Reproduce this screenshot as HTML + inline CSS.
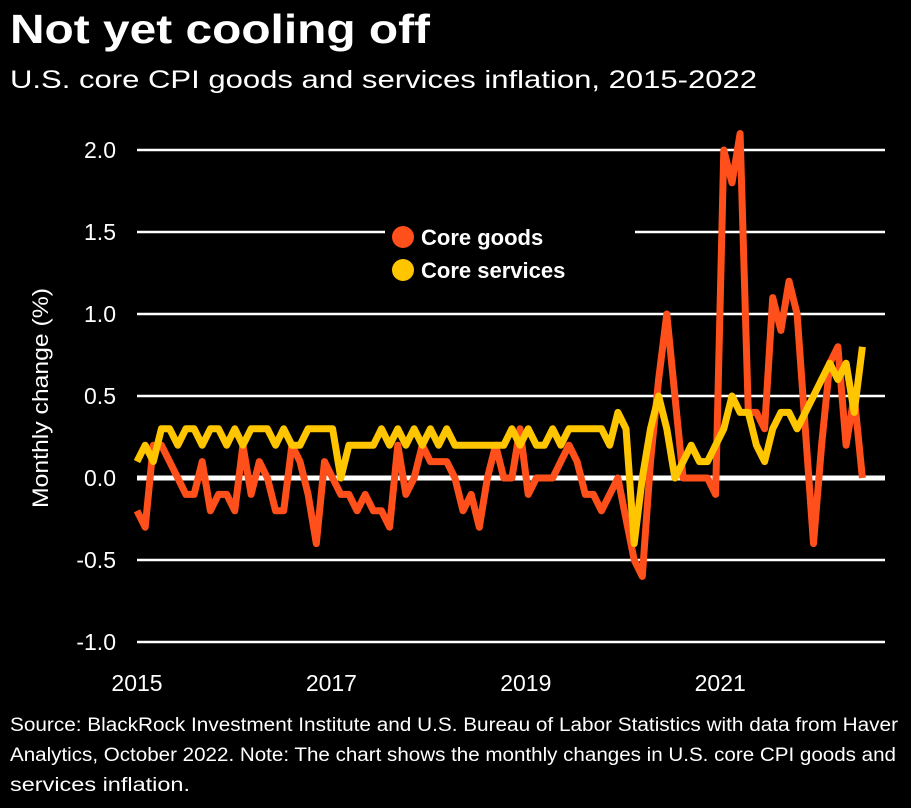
<!DOCTYPE html>
<html><head><meta charset="utf-8"><style>
html,body{margin:0;padding:0;background:#000;}
svg{display:block;}
text{font-family:"Liberation Sans",sans-serif;fill:#fff;}
</style></head><body>
<svg id="chart" width="911" height="808" viewBox="0 0 911 808" xmlns="http://www.w3.org/2000/svg">
<rect width="911" height="808" fill="#000"/>
<text x="10" y="43" font-size="41" font-weight="bold" textLength="420" lengthAdjust="spacingAndGlyphs">Not yet cooling off</text>
<text x="10" y="88" font-size="25" textLength="747" lengthAdjust="spacingAndGlyphs">U.S. core CPI goods and services inflation, 2015-2022</text>
<g id="grid"></g>
<g id="ylabels"></g>
<g id="xlabels"></g>
<text transform="translate(48,398) rotate(-90)" text-anchor="middle" font-size="22" textLength="220" lengthAdjust="spacingAndGlyphs">Monthly change (%)</text>
<g id="series"></g>
<g>
<rect x="385" y="220" width="250" height="68" fill="#000"/>
<g>
<circle cx="403" cy="237" r="11" fill="#ff4f1a"/>
<text x="421" y="245" font-size="22" font-weight="bold">Core goods</text></g>
<g>
<circle cx="403" cy="270" r="11" fill="#ffc600"/>
<text x="421" y="278" font-size="22" font-weight="bold">Core services</text></g>
</g>
<g font-size="19">
<text x="10" y="731" textLength="888" lengthAdjust="spacingAndGlyphs">Source: BlackRock Investment Institute and U.S. Bureau of Labor Statistics with data from Haver</text>
<text x="10" y="761" textLength="886" lengthAdjust="spacingAndGlyphs">Analytics, October 2022. Note: The chart shows the monthly changes in U.S. core CPI goods and</text>
<text x="10" y="791" textLength="180" lengthAdjust="spacingAndGlyphs">services inflation.</text>
</g>
</svg>
<script>
const yTicks = [2.0, 1.5, 1.0, 0.5, 0.0, -0.5, -1.0];
const yTickLabels = ["2.0", "1.5", "1.0", "0.5", "0.0", "-0.5", "-1.0"];
const xTickYears = [2015, 2017, 2019, 2021];
const coreGoods = [-0.2,-0.3,0.2,0.2,0.1,0.0,-0.1,-0.1,0.1,-0.2,-0.1,-0.1,-0.2,0.2,-0.1,0.1,0.0,-0.2,-0.2,0.2,0.1,-0.1,-0.4,0.1,0.0,-0.1,-0.1,-0.2,-0.1,-0.2,-0.2,-0.3,0.2,-0.1,0.0,0.2,0.1,0.1,0.1,0.0,-0.2,-0.1,-0.3,0.0,0.2,0.0,0.0,0.3,-0.1,0.0,0.0,0.0,0.1,0.2,0.1,-0.1,-0.1,-0.2,-0.1,0.0,-0.25,-0.5,-0.6,0.1,0.6,1.0,0.5,0.0,0.0,0.0,0.0,-0.1,2.0,1.8,2.1,0.4,0.4,0.3,1.1,0.9,1.2,1.0,0.3,-0.4,0.2,0.7,0.8,0.2,0.5,0.0];
const coreServices = [0.1,0.2,0.1,0.3,0.3,0.2,0.3,0.3,0.2,0.3,0.3,0.2,0.3,0.2,0.3,0.3,0.3,0.2,0.3,0.2,0.2,0.3,0.3,0.3,0.3,0.0,0.2,0.2,0.2,0.2,0.3,0.2,0.3,0.2,0.3,0.2,0.3,0.2,0.3,0.2,0.2,0.2,0.2,0.2,0.2,0.2,0.3,0.2,0.3,0.2,0.2,0.3,0.2,0.3,0.3,0.3,0.3,0.3,0.2,0.4,0.3,-0.4,0.0,0.3,0.5,0.3,0.0,0.1,0.2,0.1,0.1,0.2,0.3,0.5,0.4,0.4,0.2,0.1,0.3,0.4,0.4,0.3,0.4,0.5,0.6,0.7,0.6,0.7,0.4,0.8];

const NS = "http://www.w3.org/2000/svg";
const x0 = 137, monthPx = 8.15, yZero = 478, perUnit = 164;
function xScale(i){ return x0 + i*monthPx; }
function yScale(v){ return yZero - v*perUnit; }
function xYear(y){ return x0 + (y-2015)*12*8.1; }

const grid = document.getElementById('grid');
const yl = document.getElementById('ylabels');
yTicks.forEach((t,k)=>{
  const ln = document.createElementNS(NS,'line');
  
  
  ln.setAttribute('x1',x0); ln.setAttribute('x2',885);
  ln.setAttribute('y1',yScale(t)); ln.setAttribute('y2',yScale(t));
  ln.setAttribute('stroke','#fff');
  ln.setAttribute('stroke-width', t===0 ? 5 : 2.5);
  grid.appendChild(ln);
  const tx = document.createElementNS(NS,'text');
  
  
  tx.setAttribute('x',116); tx.setAttribute('y',yScale(t)+8);
  tx.setAttribute('text-anchor','end'); tx.setAttribute('font-size','23');
  tx.textContent = yTickLabels[k];
  yl.appendChild(tx);
});
const xl = document.getElementById('xlabels');
xTickYears.forEach(y=>{
  const tx = document.createElementNS(NS,'text');
  
  
  tx.setAttribute('x',xYear(y)); tx.setAttribute('y',691);
  tx.setAttribute('text-anchor','middle'); tx.setAttribute('font-size','23');
  tx.textContent = String(y);
  xl.appendChild(tx);
});
const series = document.getElementById('series');
function drawLine(vals,color,name){
  const p = document.createElementNS(NS,'polyline');
  
  
  p.setAttribute('points', vals.map((v,i)=>xScale(i).toFixed(1)+','+yScale(v).toFixed(1)).join(' '));
  p.setAttribute('fill','none'); p.setAttribute('stroke',color);
  p.setAttribute('stroke-width','7'); p.setAttribute('stroke-linejoin','round');
  series.appendChild(p);
}
drawLine(coreGoods,'#ff4f1a','core-goods-line');
drawLine(coreServices,'#ffc600','core-services-line');
</script>
</body></html>
